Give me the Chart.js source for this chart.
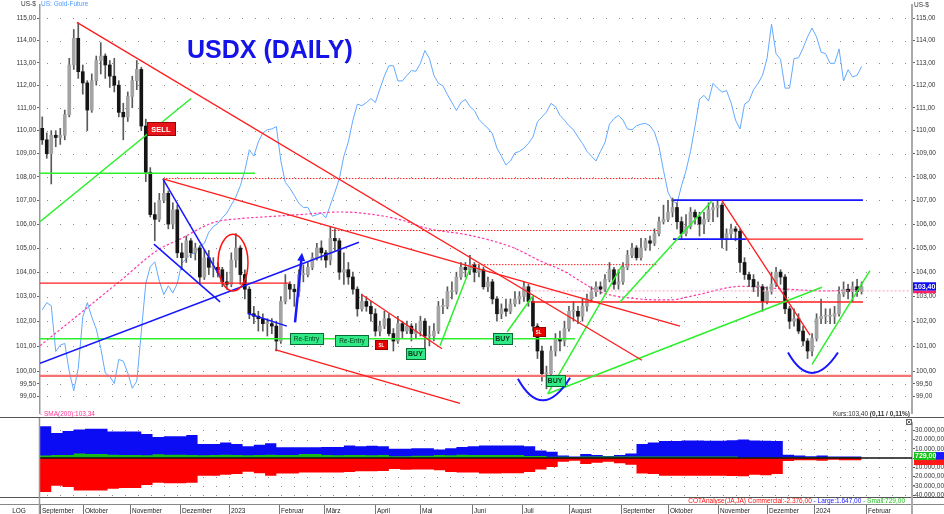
<!DOCTYPE html>
<html><head><meta charset="utf-8">
<script src="https://cdn.jsdelivr.net/npm/chart.js@4.4.1/dist/chart.umd.min.js"></script>
<style>
html,body{margin:0;padding:0;background:#fff;overflow:hidden}
#wrap{position:relative;width:944px;height:514px}
canvas{position:absolute;left:0}
</style></head><body>
<div id="wrap"><canvas id="main" width="944" height="418" style="top:0"></canvas><canvas id="cot" width="944" height="96" style="top:418px"></canvas></div>
<script>
// ---------- DATA ----------
const monthLabels = ['September','Oktober','November','Dezember','2023','Februar','März','April','Mai','Juni','Juli','August','September','Oktober','November','Dezember','2024','Februar'];
const monthIdx = [0,19,40,62,84,106,126,149,169,192,214,235,258,279,301,323,344,367];
const priceTicks = [115,114,113,112,111,110,109,108,107,106,105,104,103,102,101,100,99.5,99];
const cotTicks = [30000,20000,10000,0,-10000,-20000,-30000,-40000];

// USDX, one candle per two trading days
const firstOpen = 110.1;
const closes = [
109.6,109.0,109.8,109.7,109.8,110.7,112.9,114.1,112.6,112.1,
110.9,112.2,113.1,113.3,112.9,112.4,112.0,110.8,110.6,111.5,
112.2,112.7,110.2,108.2,106.4,106.2,107.0,107.3,106.0,106.6,
104.8,104.6,105.3,104.8,105.0,103.8,104.6,104.2,104.2,104.1,
103.6,103.5,104.5,105.0,103.9,103.3,102.3,102.2,102.1,101.9,
101.9,101.8,101.2,102.8,103.5,103.3,103.2,103.9,103.9,104.2,
104.6,105.0,104.8,104.5,105.4,105.3,104.0,104.1,103.8,103.3,
102.5,102.8,102.6,102.3,101.6,101.8,102.1,101.5,101.2,101.9,
101.6,101.8,101.5,101.6,102.0,101.4,101.4,101.6,102.6,102.6,
103.2,103.2,103.8,104.2,104.1,104.3,104.0,104.1,103.4,103.6,
102.9,102.3,102.5,102.4,102.7,102.9,103.0,103.4,102.8,101.8,
100.8,99.9,99.9,100.8,101.3,101.2,101.7,102.4,102.4,102.2,
102.6,102.9,103.2,103.4,103.3,103.7,104.1,103.5,103.6,104.2,
104.7,105.0,104.6,105.0,105.3,105.2,105.6,106.1,106.2,106.5,
106.7,106.1,105.6,105.9,106.5,106.3,106.0,106.2,106.6,106.7,
106.8,105.4,105.6,105.8,105.7,104.4,103.9,103.7,103.4,103.4,
102.8,103.2,103.5,104.0,103.8,102.5,102.0,102.1,101.6,101.2,
100.8,101.3,102.1,102.2,102.2,102.2,102.3,103.1,103.3,103.2,
103.4,103.2,103.4];
const highs = [
110.6,109.9,110.0,110.0,110.1,110.9,113.2,114.5,114.8,112.9,
112.2,112.5,113.3,113.9,113.4,113.1,113.2,112.2,111.2,111.7,
112.4,113.1,112.8,110.5,108.4,106.9,107.3,107.9,107.4,106.9,
106.8,105.2,105.5,105.4,105.2,105.1,104.9,104.9,104.6,104.4,
104.2,104.0,104.8,105.6,105.1,104.1,103.4,102.6,102.4,102.3,
102.1,102.1,102.0,103.0,103.9,103.6,103.5,104.1,104.3,104.4,
104.8,105.2,105.3,104.9,105.9,105.8,105.4,104.8,104.4,104.0,
103.4,103.1,103.0,102.8,102.5,102.0,102.4,102.3,101.7,102.2,
102.0,102.0,101.9,101.9,102.2,102.1,101.8,101.9,102.8,102.9,
103.4,103.6,104.0,104.4,104.4,104.7,104.4,104.3,104.2,103.8,
103.7,103.0,102.7,102.9,102.9,103.2,103.2,103.6,103.5,103.0,
101.9,101.0,100.2,101.0,101.5,101.6,102.0,102.6,102.8,102.6,
102.9,103.1,103.4,103.6,103.6,103.9,104.4,104.2,104.1,104.4,
104.9,105.2,105.1,105.4,105.4,105.5,105.8,106.3,106.8,107.0,
107.1,106.9,106.3,106.4,106.7,106.6,106.5,106.5,106.9,106.9,
107.0,106.9,105.8,106.0,105.9,105.8,104.6,104.0,103.9,103.6,
103.5,103.4,104.0,104.2,104.1,103.9,102.6,102.5,102.3,101.8,
101.3,101.5,102.3,102.9,102.5,102.5,102.6,103.4,103.6,103.5,
103.6,103.7,103.6];
const lows = [
109.4,108.8,107.7,109.3,109.4,109.6,110.6,112.7,112.3,111.6,
110.0,110.8,112.0,112.5,112.3,111.9,111.7,110.6,109.6,110.4,
111.0,111.8,110.0,107.8,106.3,105.3,106.1,106.9,105.8,105.8,
104.6,104.1,104.4,104.6,104.5,103.5,103.7,103.9,103.8,103.8,
103.4,103.3,103.4,104.2,103.5,102.9,102.1,101.9,101.6,101.6,
101.4,101.5,100.8,101.1,102.7,102.9,102.6,103.0,103.6,103.8,
104.1,104.5,104.5,104.2,104.3,104.9,103.7,103.5,103.5,103.1,
102.2,102.4,102.4,102.0,101.4,101.4,101.7,101.4,100.8,101.1,
101.3,101.5,101.2,101.3,101.4,100.8,101.0,101.2,101.5,102.3,
102.5,102.9,103.1,103.7,103.8,103.9,103.6,103.8,103.3,103.2,
102.7,102.0,102.1,102.2,102.3,102.6,102.7,102.8,102.6,101.6,
100.5,99.6,99.3,99.7,100.6,100.8,101.0,101.6,102.0,101.9,
102.0,102.4,102.8,103.0,103.1,103.2,103.6,103.3,103.3,103.5,
104.1,104.6,104.5,104.5,104.9,104.9,105.1,105.5,106.0,106.1,
106.3,105.8,105.4,105.5,105.8,106.0,105.5,105.6,106.1,106.1,
106.3,105.0,104.9,105.4,105.3,104.0,103.7,103.4,103.2,103.0,
102.4,102.7,103.1,103.4,103.5,102.3,101.7,101.8,101.5,101.0,
100.5,100.6,101.2,101.9,101.9,101.9,101.9,102.2,103.0,102.9,
102.8,103.0,103.1];
// US Gold-Future (overlay, own hidden scale)
const gold = [
1729,1738,1734,1677,1685,1687,1652,1628,1656,1720,
1738,1720,1705,1681,1650,1646,1637,1667,1665,1650,
1631,1640,1701,1762,1783,1789,1765,1748,1759,1750,
1762,1787,1793,1799,1800,1809,1812,1826,1833,1837,
1844,1850,1860,1870,1884,1903,1929,1921,1939,1950,
1954,1955,1958,1915,1888,1881,1872,1862,1857,1857,
1846,1848,1850,1844,1860,1876,1893,1921,1939,1966,
1986,1984,1988,1993,1988,2005,2021,2034,2034,2015,
2015,2022,2028,2027,2037,2053,2043,2022,2012,2009,
1998,1988,1978,1988,1992,1983,1978,1967,1961,1956,
1949,1931,1921,1910,1915,1925,1927,1931,1937,1945,
1964,1970,1976,1987,1983,1972,1966,1959,1954,1945,
1937,1927,1921,1915,1927,1938,1961,1968,1972,1966,
1955,1954,1959,1961,1962,1959,1951,1933,1903,1876,
1865,1862,1884,1903,1927,1958,1992,1997,1990,2012,
2006,2001,2003,1988,1966,1955,1986,1990,2004,2012,
2022,2043,2086,2049,2042,2006,2006,2043,2044,2056,
2070,2081,2070,2051,2049,2037,2037,2055,2015,2029,
2020,2022,2033];
// SMA(200): trading-day index / value
const smaV = [0,17.8,35.5,52.4,62.2,76.9,88.8,100.8,115.5,133.3,142.2,159.9,171.9,191.0,210.1,222.1,232.3,248.8,266.5,279.9,290.1,311.9,325.6,349.6,365.2];
const smaP = [101.01,102.31,103.63,104.92,105.37,106.06,106.23,106.31,106.40,106.51,106.47,106.19,105.82,105.53,105.02,104.47,104.06,103.19,102.90,102.86,103.03,103.42,103.34,103.23,103.30];

// COT weekly net positions
const cotLarge = [34300,34300,27000,29300,31000,31700,31700,28700,28700,28700,
26000,22700,23700,23700,25000,15300,15300,16700,15300,12700,
14300,16000,11700,11700,11700,11700,12000,12000,13700,12700,
13300,12700,10000,10000,10700,10700,9300,10700,12000,12700,
13700,13700,13700,13700,12700,8300,6700,2700,1700,4300,
3300,2300,3300,5000,15300,16700,18300,18300,19000,19000,
18700,18700,19300,20000,19000,18700,18300,3700,2700,2000,
2700,1700,1647];
const cotCommercial = [-36700,-36700,-30000,-31300,-35000,-35000,-35000,-33300,-32300,-32300,
-29000,-26700,-27300,-27300,-26700,-19000,-19000,-18000,-17300,-14700,
-16300,-19000,-16700,-16700,-15700,-15700,-15700,-15700,-15000,-14300,
-14300,-14000,-11700,-12700,-12300,-12300,-13300,-15000,-15700,-15700,
-16700,-16700,-16300,-16300,-15000,-12300,-9700,-4000,-3000,-6300,
-5000,-4000,-5700,-7300,-16700,-17300,-19000,-19000,-19000,-19000,
-19000,-19000,-19300,-19700,-18000,-18700,-17300,-3300,-2300,-2300,
-3000,-1700,-2376];
const cotSmall = [2700,2700,3300,3300,5000,4300,4300,3700,3300,3300,
3000,4000,3700,3700,3300,3000,3300,3500,3300,3000,
3300,3600,3300,3300,4300,4300,3300,3000,3300,3300,
3000,3300,2000,2000,2500,2500,3300,3000,3700,3300,
3300,3300,3300,3300,2300,2300,1300,1300,1000,1700,
1700,1700,1700,1700,1700,1700,1700,1700,1700,1700,
1700,1700,1700,500,500,500,500,1000,1000,1000,
1000,1000,729];

// Chart drawings (trading-day index, price)
const trendRed   = [[16.4,114.82,267.4,100.43],[54.6,107.92,284.3,101.80],[104.4,100.86,186.6,98.73],[143.0,103.07,178.6,100.89],[302.9,107.00,342.1,101.44]];
const trendGreen = [[0,106.10,67.1,111.41],[177.7,101.01,191.0,104.15],[207.5,101.56,219.0,103.03],[225.6,99.11,258.5,104.27],[225.6,99.11,347.4,103.38],[257.7,102.78,298.5,106.97],[343.0,100.27,368.7,104.06]];
const trendBlue  = [[54.6,107.92,80.9,103.67],[50.6,105.16,80.0,102.78],[0,100.31,141.7,105.24],[92.4,102.31,109.7,101.80]];
const levelRed   = [[0,103.55,111.1],[218.6,102.78,365.6],[313.6,105.37,365.6]];
const levelRedDot= [[54.6,107.93,276.8],[129.7,105.73,274.5],[191.9,104.31,274.1]];
const levelGreen = [[0,108.16,95.5],[0,101.29,237.7]];
const levelBlue  = [[281.2,107.01,365.6],[281.2,105.37,313.6]];
const levelSupport = [[0,99.81,387.4]];
const levelSma   = [[218,103.23,387.4]];
const arrowBlue  = [113.3,101.95,116.4,104.80];
const arcsBlue   = [[212.3,99.70,223.5,98.85,235.5,99.74],[332.3,100.74,343.0,99.93,354.5,100.74]];
const ellipseRed = [79.1,105.57,92.4,103.23];
const labelText = ['SELL','Re-Entry','Re-Entry','SL','BUY','BUY','SL','BUY'];
const labelV    = [53.7,118.4,138.6,151.7,166.8,205.5,221.5,228.8];
const labelP    = [110.10,101.29,101.23,101.07,100.72,101.31,101.60,99.64];
const lastPrice = 103.40;

// ---------- BUILD ----------
const FONT = '"Liberation Sans", Arial, sans-serif';
Chart.defaults.font.family = FONT;
const XMAX = 387.4;
const candleX = closes.map((c,k)=>2*k+1);
const opens = closes.map((c,k)=>k===0?firstOpen:closes[k-1]);
const fmt2 = v => v.toFixed(2).replace('.',',');
const fmtK = v => { const a=Math.abs(v).toFixed(2).split('.'); return (v<0?'-':'')+a[0].replace(/\B(?=(\d{3})+(?!\d))/g,'.')+','+a[1]; };

const RED='#ff1c1c', GREEN='#2cf02c', BLUE='#1616ff';
function seg(arr,color,w,dash){return arr.map(s=>({type:'line',data:[{x:s[0],y:s[1]},{x:s[2],y:s[3]}],borderColor:color,borderWidth:w,borderDash:dash||[],pointRadius:0,order:1}));}
function lev(arr,color,w,dash){return arr.map(s=>({type:'line',data:[{x:s[0],y:s[1]},{x:s[2],y:s[1]}],borderColor:color,borderWidth:w,borderDash:dash||[],pointRadius:0,order:2}));}

const datasets = [
  {type:'line',data:candleX.map((x,k)=>({x,y:gold[k]})),yAxisID:'yG',borderColor:'#62a9ff',borderWidth:1,pointRadius:0,order:100},
  {type:'line',data:smaV.map((x,i)=>({x,y:smaP[i]})),borderColor:'#ff3aa6',borderWidth:1.2,borderDash:[2.5,2],pointRadius:0,cubicInterpolationMode:'monotone',order:90},
  ...lev(levelSupport,'#f47272',2.2),
  ...lev(levelSma,'#ff9cc0',1,[2,2]),
  {type:'bar',data:candleX.map((x,k)=>({x,y:[lows[k],highs[k]]})),backgroundColor:'#5a5a5a',barThickness:1,grouped:false,order:80},
  {type:'bar',data:candleX.map((x,k)=>({x,y:[Math.min(opens[k],closes[k]),Math.max(opens[k],closes[k])]})),
    backgroundColor:closes.map((c,k)=>c>=opens[k]?'#a3a3a3':'#151515'),barThickness:3,minBarLength:1,grouped:false,order:70},
  ...lev(levelRed,RED,1.4),
  ...lev(levelRedDot,RED,1,[1.5,1.5]),
  ...lev(levelGreen,GREEN,1.5),
  ...lev(levelBlue,BLUE,1.8),
  ...seg(trendRed,RED,1.3),
  ...seg(trendGreen,GREEN,1.5),
  ...seg(trendBlue,BLUE,1.5)
];

const yCommon = {type:'logarithmic',min:98.35,max:115.62,bounds:'data',beginAtZero:false,
  afterBuildTicks:s=>{s.ticks=priceTicks.map(v=>({value:v}));},
  ticks:{callback:v=>fmt2(v),font:{size:6.5},color:'#333',padding:1,autoSkip:false,maxRotation:0}};

const mainDeco = {
  id:'mainDeco',
  beforeDatasetsDraw(chart){
    const {ctx,chartArea:a,scales}=chart;
    ctx.save();ctx.strokeStyle='#8a8a8a';ctx.lineWidth=1;ctx.setLineDash([1,12]);
    priceTicks.forEach(t=>{const y=Math.round(scales.y.getPixelForValue(t))+0.5;ctx.beginPath();ctx.moveTo(a.left+7,y);ctx.lineTo(a.right,y);ctx.stroke();});
    ctx.restore();
  },
  afterDatasetsDraw(chart){
    const {ctx,scales}=chart; const X=v=>scales.x.getPixelForValue(v), Y=p=>scales.y.getPixelForValue(p);
    ctx.save();
    // ellipse
    const e=ellipseRed; ctx.strokeStyle='#ff1010';ctx.lineWidth=1.5;ctx.beginPath();
    ctx.ellipse((X(e[0])+X(e[2]))/2,(Y(e[1])+Y(e[3]))/2,(X(e[2])-X(e[0]))/2,(Y(e[3])-Y(e[1]))/2,0,0,Math.PI*2);ctx.stroke();
    // arcs
    ctx.strokeStyle=BLUE;ctx.lineWidth=2;
    arcsBlue.forEach(a=>{const lx=X(a[0]),ly=Y(a[1]),bx=X(a[2]),by=Y(a[3]),rx=X(a[4]),ry=Y(a[5]);
      ctx.beginPath();ctx.moveTo(lx,ly);ctx.quadraticCurveTo(2*bx-(lx+rx)/2,2*by-(ly+ry)/2,rx,ry);ctx.stroke();});
    // arrow
    const ax1=X(arrowBlue[0]),ay1=Y(arrowBlue[1]),ax2=X(arrowBlue[2]),ay2=Y(arrowBlue[3]);
    const ang=Math.atan2(ay2-ay1,ax2-ax1);
    ctx.lineWidth=2.5;ctx.beginPath();ctx.moveTo(ax1,ay1);ctx.lineTo(ax2-Math.cos(ang)*5,ay2-Math.sin(ang)*5);ctx.stroke();
    ctx.fillStyle=BLUE;ctx.beginPath();ctx.moveTo(ax2,ay2);
    ctx.lineTo(ax2-Math.cos(ang)*8+Math.sin(ang)*4,ay2-Math.sin(ang)*8-Math.cos(ang)*4);
    ctx.lineTo(ax2-Math.cos(ang)*8-Math.sin(ang)*4,ay2-Math.sin(ang)*8+Math.cos(ang)*4);ctx.closePath();ctx.fill();
    // labels
    const sty={SELL:{w:28,h:13,f:'#e8141b',s:'#9a0000',t:'#fff',font:'bold 7.5px '+FONT},
      'Re-Entry':{w:33,h:11,f:'#30ea86',s:'#0b6b35',t:'#06391a',font:'6.5px '+FONT},
      BUY:{w:19,h:11,f:'#30ea86',s:'#0b6b35',t:'#06391a',font:'bold 7px '+FONT},
      SL:{w:12,h:9,f:'#e60000',s:'#900',t:'#fff',font:'bold 4.5px '+FONT}};
    labelText.forEach((t,i)=>{const st=sty[t];const cx=X(labelV[i]),cy=Y(labelP[i]);
      const x0=Math.round(cx-st.w/2)+0.5,y0=Math.round(cy-st.h/2)+0.5;
      ctx.fillStyle=st.f;ctx.fillRect(x0,y0,st.w,st.h);ctx.strokeStyle=st.s;ctx.lineWidth=1;ctx.strokeRect(x0,y0,st.w,st.h);
      ctx.fillStyle=st.t;ctx.font=st.font;ctx.textAlign='center';ctx.textBaseline='middle';ctx.fillText(t,cx,y0+st.h/2+0.5);});
    ctx.restore();
  },
  afterDraw(chart){
    const {ctx,scales}=chart;
    ctx.save();
    ctx.fillStyle='#1414e8';ctx.font='bold 25px '+FONT;ctx.textAlign='left';ctx.textBaseline='alphabetic';
    ctx.fillText('USDX (DAILY)',187,58);
    ctx.font='6.5px '+FONT;ctx.fillStyle='#333';ctx.fillText('US-$',21,5.5);ctx.fillText('US-$',914,7);
    ctx.fillStyle='#4d9bff';ctx.fillText('US: Gold-Future',41,5.5);
    ctx.fillStyle='#ff3399';ctx.fillText('- SMA(200):103,34',40,416);
    ctx.fillStyle='#333';ctx.fillText('Kurs:103,40 ',833,416);
    const w=ctx.measureText('Kurs:103,40 ').width;ctx.font='bold 6.5px '+FONT;ctx.fillText('(0,11 / 0,11%)',833+w,416);
    // last price box
    const py=scales.y.getPixelForValue(lastPrice);
    ctx.fillStyle='#1010ee';ctx.fillRect(913,py-4.5,23,8.5);
    ctx.fillStyle='#ff2266';ctx.fillRect(913,py+4,23,2.5);
    ctx.fillStyle='#fff';ctx.font='bold 7px '+FONT;ctx.textBaseline='middle';ctx.fillText(fmt2(lastPrice),914,py);
    // bottom separator
    ctx.strokeStyle='#555';ctx.lineWidth=1;ctx.beginPath();ctx.moveTo(0,417.5);ctx.lineTo(944,417.5);ctx.stroke();
    ctx.restore();
  }
};

new Chart(document.getElementById('main'),{
  type:'line',data:{datasets},
  options:{responsive:false,animation:false,events:[],
    layout:{padding:0},
    plugins:{legend:{display:false},tooltip:{enabled:false}},
    scales:{
      x:{type:'linear',min:0,max:XMAX,display:false,offset:false},
      y:{...yCommon,position:'left',afterFit:s=>{s.width=40;},grid:{drawOnChartArea:false,tickLength:3,tickColor:'#666'},border:{color:'#999',width:1.5}},
      y2:{...yCommon,position:'right',afterFit:s=>{s.width=32;},grid:{drawOnChartArea:false,tickLength:3,tickColor:'#666'},border:{color:'#aaa',width:2}},
      yG:{type:'linear',min:1600,max:2110,display:false}
    }},
  plugins:[mainDeco]
});

// ---------- COT ----------
const step = arr => { const d=arr.map((v,j)=>({x:5*j,y:v})); d.push({x:5*arr.length,y:arr[arr.length-1]}); return d; };
const cotDeco = {
  id:'cotDeco',
  beforeDatasetsDraw(chart){
    const {ctx,chartArea:a,scales}=chart;
    ctx.save();ctx.strokeStyle='#8a8a8a';ctx.lineWidth=1;ctx.setLineDash([1,12]);
    cotTicks.forEach(t=>{const y=Math.round(scales.y.getPixelForValue(t))+0.5;ctx.beginPath();ctx.moveTo(a.left+7,y);ctx.lineTo(a.right,y);ctx.stroke();});
    ctx.restore();
  },
  afterDraw(chart){
    const {ctx,scales}=chart; const X=v=>scales.x.getPixelForValue(v), Y=v=>scales.y.getPixelForValue(v);
    ctx.save();
    ctx.strokeStyle='#555';ctx.lineWidth=1;
    ctx.beginPath();ctx.moveTo(0,79.5);ctx.lineTo(944,79.5);ctx.stroke();
    ctx.strokeStyle='#888';ctx.beginPath();ctx.moveTo(0,86.5);ctx.lineTo(944,86.5);ctx.stroke();
    ctx.strokeStyle='#999';ctx.lineWidth=1.5;ctx.beginPath();ctx.moveTo(39.5,0);ctx.lineTo(39.5,96);ctx.stroke();
    ctx.strokeStyle='#aaa';ctx.lineWidth=2;ctx.beginPath();ctx.moveTo(912,79);ctx.lineTo(912,96);ctx.stroke();
    // months
    ctx.font='6.5px '+FONT;ctx.fillStyle='#222';ctx.textBaseline='alphabetic';ctx.textAlign='left';
    ctx.strokeStyle='#777';ctx.lineWidth=1;
    monthIdx.forEach((m,i)=>{const x=Math.round(X(m))+0.5;ctx.beginPath();ctx.moveTo(x,87);ctx.lineTo(x,96);ctx.stroke();ctx.fillText(monthLabels[i],x+1.5,94.5);});
    ctx.textAlign='center';ctx.fillText('LOG',19,94.5);
    // legend
    ctx.textAlign='left';
    const parts=[['COTAnalyse(JA,JA) Commercial:'+fmtK(cotCommercial[cotCommercial.length-1]),'#ff1010'],[' - Large:'+fmtK(cotLarge[cotLarge.length-1]),'#1818ff'],[' - Small:'+fmtK(cotSmall[cotSmall.length-1]),'#20c020']];
    let tw=0;parts.forEach(p=>tw+=ctx.measureText(p[0]).width);
    let x=905-tw;parts.forEach(p=>{ctx.fillStyle=p[1];ctx.fillText(p[0],x,84.5);x+=ctx.measureText(p[0]).width;});
    // value boxes
    const z=Y(0);
    ctx.fillStyle='#ff1a1a';ctx.fillRect(914,z+1,30,6);
    ctx.fillStyle='#1818ff';ctx.fillRect(914,z-6,30,7.5);
    ctx.fillStyle='#18c018';ctx.fillRect(914,z-6,22,8);
    ctx.fillStyle='#fff';ctx.font='bold 7px '+FONT;ctx.textBaseline='middle';ctx.fillText(fmt2(cotSmall[cotSmall.length-1]),915,z-1.8);
    // close icon
    ctx.strokeStyle='#666';ctx.lineWidth=1;ctx.strokeRect(906.5,1.5,5,5);
    ctx.beginPath();ctx.moveTo(907.5,2.5);ctx.lineTo(910.5,5.5);ctx.moveTo(910.5,2.5);ctx.lineTo(907.5,5.5);ctx.stroke();
    ctx.restore();
  }
};
new Chart(document.getElementById('cot'),{
  type:'line',
  data:{datasets:[
    {data:step(cotSmall),stepped:'after',fill:'origin',backgroundColor:'#18b818',borderWidth:0,pointRadius:0,order:0},
    {data:step(cotLarge),stepped:'after',fill:'origin',backgroundColor:'#0c0cf4',borderWidth:0,pointRadius:0,order:2},
    {data:step(cotCommercial),stepped:'after',fill:'origin',backgroundColor:'#ff0000',borderWidth:0,pointRadius:0,order:2},
    {data:[{x:0,y:0},{x:XMAX,y:0}],borderColor:'#111',borderWidth:1.5,pointRadius:0,order:-1}
  ]},
  options:{responsive:false,animation:false,events:[],
    layout:{padding:{left:40,bottom:17,top:0,right:0}},
    plugins:{legend:{display:false},tooltip:{enabled:false}},
    scales:{
      x:{type:'linear',min:0,max:XMAX,display:false,offset:false},
      y:{type:'linear',position:'right',min:-42100,max:38000,bounds:'data',
        afterFit:s=>{s.width=32;},afterBuildTicks:s=>{s.ticks=cotTicks.map(v=>({value:v}));},
        ticks:{callback:v=>v===0?'':fmtK(v),font:{size:6.5},color:'#333',padding:1,crossAlign:'far',autoSkip:false},
        grid:{drawOnChartArea:false,tickLength:3,tickColor:'#666'},border:{color:'#aaa',width:2}}
    }},
  plugins:[cotDeco]
});
</script></body></html>
